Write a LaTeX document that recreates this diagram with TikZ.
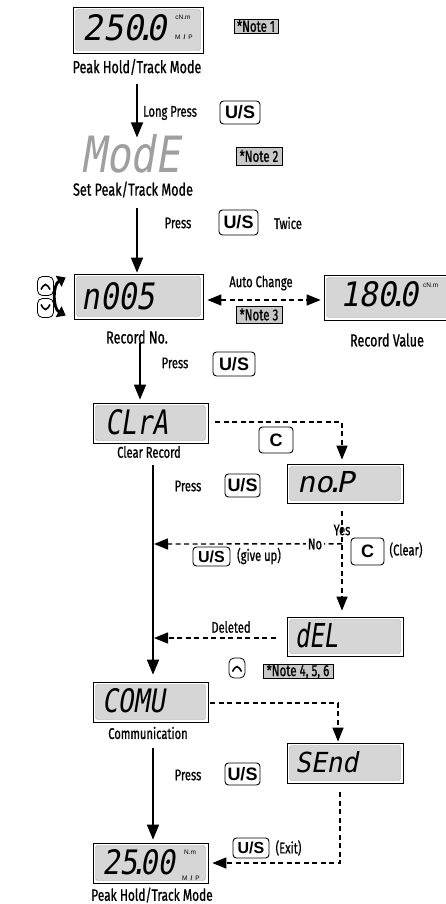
\documentclass[tikz,border=0pt]{standalone}
\usepackage{fontspec}
\setmainfont{Fira Sans}[FakeStretch=0.72, FakeBold=0.8]
\newfontfamily\usfont{Liberation Sans}
\newfontfamily\lcdfont{DejaVu Sans Mono}[FakeSlant=0.2]
\usetikzlibrary{arrows.meta,calc}
\definecolor{lcdgray}{HTML}{D6D6D6}
\definecolor{notegray}{HTML}{C8C8C8}
\newcommand{\dotk}{\kern-0.25em.\kern-0.25em}
\tikzset{
  lcd/.style={draw, line width=0.7pt, fill=white, inner sep=0,
    path picture={\fill[lcdgray, draw=gray!70, line width=0.4pt, rounded corners=2.5pt]
      ([shift={(2.5pt,-2.5pt)}]path picture bounding box.north west) rectangle
      ([shift={(-2.5pt,2.5pt)}]path picture bounding box.south east);}},
  seg/.style={inner sep=0},
  lbl/.style={inner sep=0, font=\fontsize{17.5}{17.5}\selectfont},
  lbltwo/.style={inner sep=0, font=\fontsize{15.5}{15.5}\selectfont},
  tinyt/.style={inner sep=0, font=\usfont\fontsize{6.5}{6.5}\selectfont},
  btn/.style={draw, line width=0.9pt, rounded corners=3.5pt, inner sep=0, fill=white,
    font=\usfont\bfseries\fontsize{18}{18}\selectfont},
  kbtn/.style={draw, line width=0.8pt, rounded corners=5pt, inner sep=0, fill=white,
    minimum width=16pt, minimum height=19pt},
  upbtn/.style={kbtn, path picture={\draw[line width=1.6pt, line join=miter]
      ([shift={(-4.5pt,-3.5pt)}]path picture bounding box.center) --
      ([shift={(0pt,4pt)}]path picture bounding box.center) --
      ([shift={(4.5pt,-3.5pt)}]path picture bounding box.center);}},
  dnbtn/.style={kbtn, path picture={\draw[line width=1.6pt, line join=miter]
      ([shift={(-4.5pt,3.5pt)}]path picture bounding box.center) --
      ([shift={(0pt,-4pt)}]path picture bounding box.center) --
      ([shift={(4.5pt,3.5pt)}]path picture bounding box.center);}},
  note/.style={draw, fill=notegray, line width=0.7pt, inner sep=0,
    font=\fontsize{16}{16}\selectfont},
  arr/.style={line width=1.5pt, -{Triangle[length=15pt,width=12pt]}},
  darr/.style={line width=1.4pt, dash pattern=on 5pt off 3.5pt, -{Triangle[length=14pt,width=11pt]}},
}
\begin{document}
\begin{tikzpicture}[x=1pt,y=-1pt]
\useasboundingbox (0,0) rectangle (445,904);

% ---- top display
\node[lcd, minimum width=130pt, minimum height=46pt] (d1) at (138,30) {};
\node[seg] (d1t) at (125,28) {\resizebox{84pt}{26pt}{\lcdfont 250\dotk0}};
\node[tinyt] (d1u) at (183,17) {cN.m};
\node[tinyt] (d1m) at (184,37) {M\hspace{3pt}{\bfseries/}\hspace{3pt}P};
\node[lbl] (l1) at (137,67) {Peak Hold/Track Mode};
\node[note, minimum width=44pt, minimum height=14pt] (n1) at (256,26) {*Note 1};

\node[seg, text=gray!75] (mode) at (131,154) {\resizebox{98pt}{38pt}{\lcdfont ModE}};
\node[lbltwo, anchor=west] (lp) at (143,113) {Long Press};
\node[btn, minimum width=40pt, minimum height=23pt] (b1) at (240,112.5) {U/S};
\draw[arr, shorten <=9pt, shorten >=-3pt] (l1.south) -- (l1.south |- mode.north);
\node[lbl] (l2) at (133,189.5) {Set Peak/Track Mode};
\node[note, minimum width=46pt, minimum height=18pt] (n2) at (259,156) {*Note 2};

% ---- record no.
\node[lcd, minimum width=129pt, minimum height=45pt] (d3) at (138.5,296.5) {};
\node[seg] (d3t) at (118.5,296.5) {\resizebox{73pt}{27pt}{\lcdfont n005}};
\draw[arr, shorten <=10pt, shorten >=1pt] (l1.south |- l2.south) -- (l1.south |- d3.north);
\node[lbltwo] (p1) at (178,223) {Press};
\node[btn, minimum width=39pt, minimum height=25pt] (b2) at (238.5,222.5) {U/S};
\node[lbltwo] (tw) at (288,223) {Twice};

\node[upbtn] (up) at (45.5,286) {};
\node[dnbtn] (dn) at (45.5,308) {};
\draw[line width=2.8pt, {Triangle[length=8pt,width=12pt]}-{Triangle[length=8pt,width=12pt]}]
  ($(d3.west)+(-8,-19)$) .. controls ($(d3.west)+(-21,-12)$) and ($(d3.west)+(-21,12)$) .. ($(d3.west)+(-8,19)$);
\node[lbl] (rn) at (137,337) {Record No.};

\node[lcd, minimum width=130pt, minimum height=45pt] (d4) at (389,297.5) {};
\node[seg] (d4t) at (379,294.5) {\resizebox{78pt}{25pt}{\lcdfont 180\dotk0}};
\node[tinyt, anchor=west] (d4u) at (423,285) {cN.m};
\node[lbl] (rv) at (387,340) {Record Value};
\draw[darr, {Triangle[length=14pt,width=11pt]}-{Triangle[length=14pt,width=11pt]}, shorten <=4pt, shorten >=3pt]
  ($(d3.east)+(0,3.5)$) -- ($(d4.west)+(0,2.5)$);
\node[lbltwo] (ac) at (261,283) {Auto Change};
\node[note, minimum width=46pt, minimum height=17pt] (n3) at (259,314.5) {*Note 3};

% ---- clear record
\node[lcd, minimum width=115pt, minimum height=40pt] (clra) at (150.5,423) {};
\node[seg] (clrat) at (136.5,422.5) {\resizebox{63pt}{25pt}{\lcdfont CLrA}};
\draw[arr] ($(d3.south)+(1.5,24)$) -- ($(d3.south |- clra.north)+(1.5,-3)$);
\node[lbltwo] (p2) at (175,363) {Press};
\node[btn, minimum width=42pt, minimum height=24pt] (b3) at (234,364) {U/S};
\node[lbltwo] (cr) at (149,452) {Clear Record};

\node[lcd, minimum width=116pt, minimum height=39pt] (nop) at (345,483.5) {};
\node[seg] (nopt) at (325.5,482.5) {\resizebox{57pt}{21pt}{\lcdfont no\dotk P}};
\draw[darr] ($(clra.east)+(7,-1)$) -| ($(nop.north)+(-3,-4)$);
\node[btn, minimum width=34pt, minimum height=26pt] (c1) at (276,440) {C};
\node[lbltwo] (p3) at (188,486) {Press};
\node[btn, minimum width=35pt, minimum height=23pt] (b4) at (242.5,485.5) {U/S};

% ---- deleted
\node[lcd, minimum width=116pt, minimum height=39pt] (del) at (345,636.5) {};
\node[seg] (delt) at (316.5,635.5) {\resizebox{43pt}{25pt}{\lcdfont dEL}};
\draw[darr] ($(nop.south)+(-3,8)$) -- ($(del.north)+(-3,-6)$);
\coordinate (yn) at ($(nop.south)+(-3,40.5)$);
\coordinate (nomain) at (154,544);
\draw[darr] (yn) -- (nomain);
\node[lbltwo, fill=white, inner xsep=2pt] (no) at (315,544) {No};
\node[lbltwo] (yes) at (342,530) {Yes};
\node[btn, minimum width=33pt, minimum height=27pt] (c2) at (367.5,551.5) {C};
\node[lbltwo] (clr) at (406,550) {(Clear)};
\node[btn, minimum width=37pt, minimum height=19pt, font=\usfont\bfseries\fontsize{16}{16}\selectfont] (b5) at (211.5,556.5) {U/S};
\node[lbltwo] (gu) at (259,556) {(give up)};
\coordinate (delmain) at (154,638);
\draw[darr] ($(del.west)+(-11,1.5)$) -- (delmain);
\node[lbltwo] (dl) at (231,627) {Deleted};

% ---- communication
\node[lcd, minimum width=115pt, minimum height=40pt] (comu) at (150.5,702) {};
\node[seg] (comut) at (133.5,701) {\resizebox{63pt}{24pt}{\lcdfont COMU}};
\draw[arr] ($(clra.south)+(2.5,22)$) -- ($(clra.south |- comu.north)+(2.5,-7)$);
\node[lbltwo] (cm) at (148,733) {Communication};
\node[upbtn, minimum height=20pt] (up2) at (237,668) {};
\node[note, minimum width=70pt, minimum height=14pt] (n4) at (298,671.5) {*Note 4, 5, 6};

\node[lcd, minimum width=116pt, minimum height=40pt] (send) at (345,763) {};
\node[seg] (sendt) at (326.5,762.5) {\resizebox{63pt}{21pt}{\lcdfont SEnd}};
\draw[darr] ($(comu.east)+(2,1)$) -| ($(send.north)+(-7,-1)$);
\node[lbltwo] (p4) at (188,775) {Press};
\node[btn, minimum width=35pt, minimum height=22pt] (b6) at (242.5,774) {U/S};

% ---- bottom display
\node[lcd, minimum width=115pt, minimum height=40pt] (d9) at (150.5,863) {};
\node[seg] (d9t) at (138.5,862.5) {\resizebox{73pt}{25pt}{\lcdfont 25\dotk00}};
\node[tinyt] (d9u) at (190,852) {N.m};
\node[tinyt] (d9m) at (191,878) {M\hspace{3pt}{\bfseries/}\hspace{3pt}P};
\node[lbl, font=\fontsize{16.5}{16.5}\selectfont] (l9) at (152,895) {Peak Hold/Track Mode};
\draw[arr] ($(comu.south)+(2.5,26)$) -- ($(comu.south |- d9.north)+(2.5,-3)$);
\draw[darr] ($(send.south)+(-5,9)$) |- ($(d9.east)+(4,0)$);
\node[btn, minimum width=36pt, minimum height=20pt, font=\usfont\bfseries\fontsize{16}{16}\selectfont] (b7) at (251,848) {U/S};
\node[lbltwo] (ex) at (288.5,848) {(Exit)};
\end{tikzpicture}
\end{document}
